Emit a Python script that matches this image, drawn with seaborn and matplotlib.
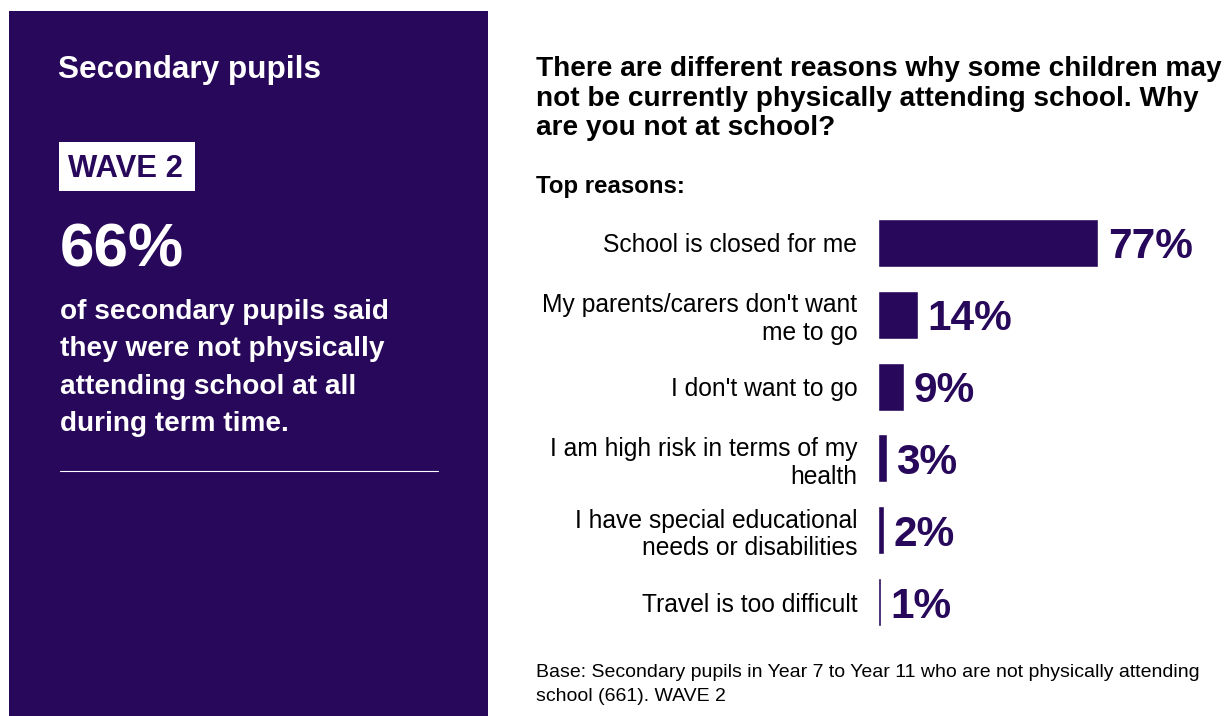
import numpy as np
import matplotlib
matplotlib.use('Agg')
import matplotlib.pyplot as plt
from matplotlib.patches import Rectangle
import seaborn as sns

# ── DATA ────────────────────────────────────────────────────────────────────
reasons = [
    "School is closed for me",
    "My parents/carers don't want\nme to go",
    "I don't want to go",
    "I am high risk in terms of my\nhealth",
    "I have special educational\nneeds or disabilities",
    "Travel is too difficult",
]
shares = [77, 14, 9, 3, 2, 1]
headline_pct = "66%"
wave_label = "WAVE 2"

PURPLE = "#27085a"
W, H = 1229, 716

sns.set_style("white")
plt.rcParams['font.family'] = ['Liberation Sans', 'DejaVu Sans']

fig = plt.figure(figsize=(W / 100, H / 100), dpi=100)
fig.patch.set_facecolor("white")

def fx(px):
    return px / W

def fy(py):
    return 1 - py / H

# ── LEFT PANEL ──────────────────────────────────────────────────────────────
fig.patches.append(Rectangle((fx(9), 0), fx(488) - fx(9), fy(11),
                             transform=fig.transFigure, facecolor=PURPLE,
                             edgecolor="none", zorder=0))
fig.text(fx(58), fy(70), "Secondary pupils", color="white", fontsize=22.7,
         fontweight="bold", va="center", ha="left")
fig.patches.append(Rectangle((fx(59), fy(191)), fx(195) - fx(59), fy(142) - fy(191),
                             transform=fig.transFigure, facecolor="white",
                             edgecolor="none", zorder=1))
fig.text(fx(68), fy(169), wave_label, color=PURPLE, fontsize=22.3,
         fontweight="bold", va="center", ha="left", zorder=2)
fig.text(fx(60), fy(251), headline_pct, color="white", fontsize=44.7,
         fontweight="bold", va="center", ha="left")
fig.text(fx(60), fy(299), "of secondary pupils said\nthey were not physically\n"
         "attending school at all\nduring term time.", color="white",
         fontsize=20.2, fontweight="bold", va="top", ha="left", linespacing=1.57)
fig.add_artist(plt.Line2D([fx(60), fx(438)], [fy(471), fy(471)],
                          color="white", lw=0.8, transform=fig.transFigure))

# ── RIGHT: TITLE ────────────────────────────────────────────────────────────
fig.text(fx(536), fy(56), "There are different reasons why some children may\n"
         "not be currently physically attending school. Why\nare you not at school?",
         fontsize=20.2, fontweight="bold", color="black", va="top", ha="left",
         linespacing=1.18)
fig.text(fx(536), fy(187), "Top reasons:", fontsize=17.3, fontweight="bold",
         color="black", va="center", ha="left")

# ── BARS ────────────────────────────────────────────────────────────────────
ax = fig.add_axes([fx(878), fy(638), fx(W) - fx(878), fy(207) - fy(638)])
sns.barplot(x=shares, y=reasons, orient="h", color=PURPLE, width=0.667,
            saturation=1, ax=ax)
ax.set_xlim(0, (W - 878) / 2.857)
ax.set_ylim(5.5, -0.5)
for s in ax.spines.values():
    s.set_visible(False)
ax.set_xticks([])
ax.set_xlabel("")
ax.set_ylabel("")
ax.tick_params(axis="y", length=0, pad=15, labelsize=17.7, labelcolor="black")
for t in ax.get_yticklabels():
    t.set_linespacing(1.19)
ax.set_facecolor("none")
pct_labels = ax.bar_label(ax.containers[0], labels=[f"{v}%" for v in shares],
                          padding=7, fontsize=30.5, fontweight="bold", color=PURPLE)
for lbl in pct_labels:
    lbl.set_va("center_baseline")

# ── FOOTNOTE ────────────────────────────────────────────────────────────────
fig.text(fx(536), fy(664), "Base: Secondary pupils in Year 7 to Year 11 who are not physically attending\n"
         "school (661). WAVE 2", fontsize=14, color="black", va="top", ha="left",
         linespacing=1.56)

fig.savefig("out.png", dpi=100)
